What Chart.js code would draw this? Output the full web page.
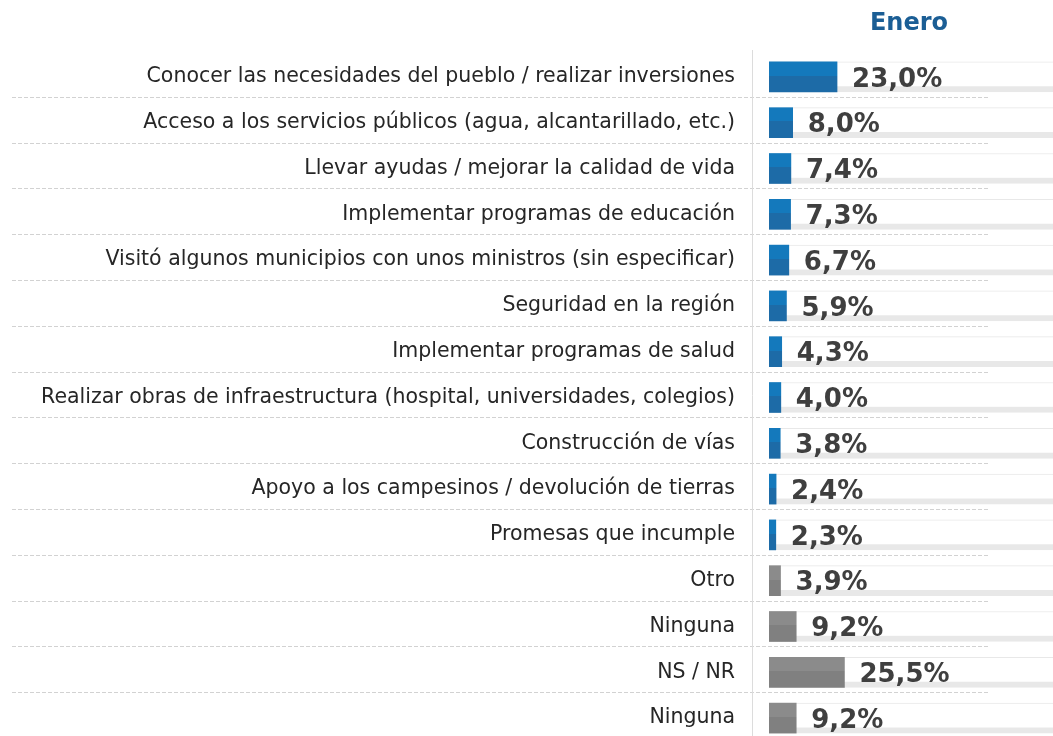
<!DOCTYPE html>
<html>
<head>
<meta charset="utf-8">
<script src="https://cdn.jsdelivr.net/npm/chart.js@4/dist/chart.umd.min.js"></script>
<style>
  html, body { margin: 0; padding: 0; background: #fff; overflow: hidden; }
  #wrap { position: relative; width: 1053px; height: 741px; }
  #titulo {
    position: absolute; left: 809px; top: 8px; width: 200px; text-align: center;
    font-family: "DejaVu Sans", sans-serif; font-weight: bold; font-size: 24px; color: #1b5e95;
  }
</style>
</head>
<body>
<div id="wrap">
  <div id="titulo">Enero</div>
  <canvas id="grafico" width="1053" height="741"></canvas>
</div>
<script>
const categorias = [
  "Conocer las necesidades del pueblo / realizar inversiones",
  "Acceso a los servicios públicos (agua, alcantarillado, etc.)",
  "Llevar ayudas / mejorar la calidad de vida",
  "Implementar programas de educación",
  "Visitó algunos municipios con unos ministros (sin especificar)",
  "Seguridad en la región",
  "Implementar programas de salud",
  "Realizar obras de infraestructura (hospital, universidades, colegios)",
  "Construcción de vías",
  "Apoyo a los campesinos / devolución de tierras",
  "Promesas que incumple",
  "Otro",
  "Ninguna",
  "NS / NR",
  "Ninguna"
];
const valores = [23.0, 8.0, 7.4, 7.3, 6.7, 5.9, 4.3, 4.0, 3.8, 2.4, 2.3, 3.9, 9.2, 25.5, 9.2];
// true = respuesta concreta (azul), false = otro / ninguna / ns-nr (gris)
const esRespuesta = [true, true, true, true, true, true, true, true, true, true, true, false, false, false, false];
const maximo = 96;
const fondo = categorias.map(() => maximo);

const ctx = document.getElementById("grafico").getContext("2d");

function colorBarra(context) {
  const chart = context.chart;
  const y = chart.scales.y;
  if (!y || !chart.chartArea) return "#1a72b3";
  const centro = y.getPixelForValue(context.dataIndex);
  const g = chart.ctx.createLinearGradient(0, centro - 15, 0, centro + 15);
  const azul = esRespuesta[context.dataIndex];
  const arriba = azul ? "#1479bc" : "#8b8b8b";
  const abajo = azul ? "#1d6ba7" : "#808080";
  g.addColorStop(0, arriba);
  g.addColorStop(0.46, arriba);
  g.addColorStop(0.46, abajo);
  g.addColorStop(1, abajo);
  return g;
}

const lineas = {
  id: "lineas",
  beforeDatasetsDraw(chart) {
    const c = chart.ctx;
    const y = chart.scales.y;
    c.save();
    c.strokeStyle = "#d2d2d2";
    c.lineWidth = 1;
    c.setLineDash([4, 2]);
    for (let i = 0; i < categorias.length - 1; i++) {
      const yy = Math.round((y.getPixelForValue(i) + y.getPixelForValue(i + 1)) / 2) - 2.5;
      c.beginPath();
      c.moveTo(12, yy);
      c.lineTo(990, yy);
      c.stroke();
    }
    c.setLineDash([]);
    c.strokeStyle = "#dcdcdc";
    c.beginPath();
    c.moveTo(752.5, 50);
    c.lineTo(752.5, chart.height);
    c.stroke();
    c.restore();
  }
};

const etiquetas = {
  id: "etiquetas",
  afterDatasetsDraw(chart) {
    const c = chart.ctx;
    const meta = chart.getDatasetMeta(0);
    c.save();
    c.font = "bold 26px 'DejaVu Sans', sans-serif";
    c.fillStyle = "#3f3f3f";
    c.textAlign = "left";
    c.textBaseline = "middle";
    meta.data.forEach((barra, i) => {
      const txt = valores[i].toFixed(1).replace(".", ",") + "%";
      c.fillText(txt, barra.x + 15, barra.y + 3);
    });
    c.restore();
  }
};

new Chart(ctx, {
  type: "bar",
  data: {
    labels: categorias,
    datasets: [
      {
        data: valores,
        backgroundColor: colorBarra,
        barThickness: 30,
        order: 1
      },
      {
        data: fondo,
        backgroundColor: "#ffffff",
        borderColor: "#e8e8e8",
        borderWidth: { top: 1, bottom: 6, left: 0, right: 0 },
        borderSkipped: false,
        barThickness: 30,
        order: 2
      }
    ]
  },
  options: {
    indexAxis: "y",
    responsive: false,
    animation: false,
    grouped: false,
    layout: { padding: { top: 54, bottom: 0, left: 0, right: 0 } },
    plugins: { legend: { display: false }, tooltip: { enabled: false } },
    scales: {
      x: { display: false, min: 0, max: maximo },
      y: {
        grid: { display: false, drawTicks: false },
        border: { display: false },
        ticks: {
          padding: 34,
          color: "#262626",
          font: { family: "'DejaVu Sans', sans-serif", size: 20.5 }
        },
        afterFit(scale) {
          scale.width = 769;
          scale.paddingTop = 0;
          scale.paddingBottom = 0;
        }
      }
    }
  },
  plugins: [lineas, etiquetas]
});
</script>
</body>
</html>
